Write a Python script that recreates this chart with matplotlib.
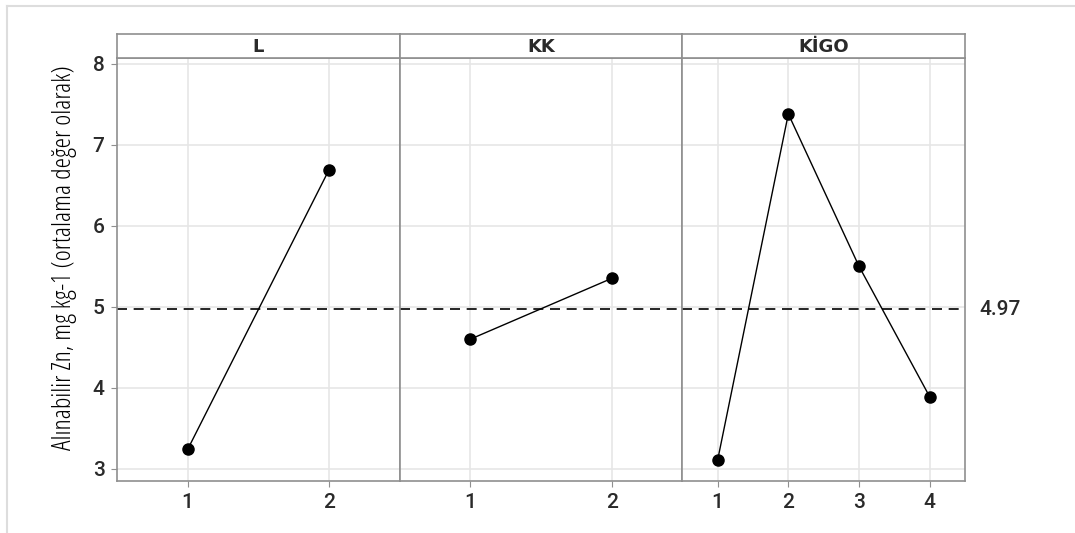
import matplotlib
matplotlib.use('Agg')
import matplotlib.pyplot as plt
from matplotlib.lines import Line2D

# main effects: means of Zn for each factor level
factors = ['L', 'KK', 'KİGO']
levels_L = [1, 2]
means_L = [3.24, 6.69]
levels_KK = [1, 2]
means_KK = [4.60, 5.35]
levels_KIGO = [1, 2, 3, 4]
means_KIGO = [3.11, 7.38, 5.50, 3.89]
grand_mean = 4.97
y_ticks = [3, 4, 5, 6, 7, 8]
ylabel = 'Alınabilir Zn, mg kg-1 (ortalama değer olarak)'

W, H = 1075, 533
fig = plt.figure(figsize=(W / 100, H / 100), dpi=100)

frame_col = '#8f8f8f'
grid_col = '#e6e6e6'
txt_col = '#2a2a2a'
tick_font = dict(family=['Roboto', 'DejaVu Sans'], size=15, weight='medium', color=txt_col)

# light border around the whole picture
fig.add_artist(Line2D([7 / W, 7 / W], [0, 1 - 6 / H], color='#dddddd', lw=1.5))
fig.add_artist(Line2D([7 / W, 1], [1 - 6 / H, 1 - 6 / H], color='#dddddd', lw=1.5))

left, right = 117 / W, 965 / W
bottom, top = 1 - 481 / H, 1 - 58 / H
strip_top = 1 - 34 / H
pw = (right - left) / 3

panels = [(levels_L, means_L), (levels_KK, means_KK), (levels_KIGO, means_KIGO)]

for i, (name, (lv, mv)) in enumerate(zip(factors, panels)):
    ax = fig.add_axes([left + i * pw, bottom, pw, top - bottom])
    ax.plot(lv, mv, color='black', lw=1, marker='o', markersize=8, zorder=3)
    ax.axhline(grand_mean, color='black', lw=1.2, ls=(0, (6, 4)), zorder=2)
    ax.set_xlim(0.5, len(lv) + 0.5)
    ax.set_ylim(2.85, 8.07)
    ax.set_xticks(lv)
    ax.set_xticklabels([str(v) for v in lv], fontdict=tick_font)
    ax.set_yticks(y_ticks)
    ax.grid(True, color=grid_col, lw=1.2)
    ax.set_axisbelow(True)
    for s in ax.spines.values():
        s.set_color(frame_col)
        s.set_linewidth(1.2)
    ax.tick_params(axis='x', length=4, color=frame_col, pad=5)
    if i == 0:
        ax.set_yticklabels([str(v) for v in y_ticks], fontdict=tick_font)
        ax.tick_params(axis='y', length=4, color=frame_col, pad=5)
        ax.set_ylabel(ylabel, family=['Open Sans', 'DejaVu Sans'], fontstretch='condensed',
                      fontweight='normal', fontsize=19, color='black')
        ax.yaxis.set_label_coords(-0.14, 0.528)
    else:
        ax.tick_params(axis='y', length=0, labelleft=False)

    # strip with the factor name
    sax = fig.add_axes([left + i * pw, top, pw, strip_top - top])
    sax.set_xticks([])
    sax.set_yticks([])
    for s in sax.spines.values():
        s.set_color(frame_col)
        s.set_linewidth(1.2)
    sax.text(0.5, 0.45, name, ha='center', va='center', fontsize=13, fontweight='bold',
             family=['DejaVu Sans'], color=txt_col, transform=sax.transAxes)

    if i == 2:
        ax.text(1.05, grand_mean, '4.97', transform=ax.get_yaxis_transform(),
                va='center', ha='left', fontsize=15, fontweight='medium',
                family=['Roboto', 'DejaVu Sans'], color=txt_col)

fig.savefig('out.png', dpi=100)
